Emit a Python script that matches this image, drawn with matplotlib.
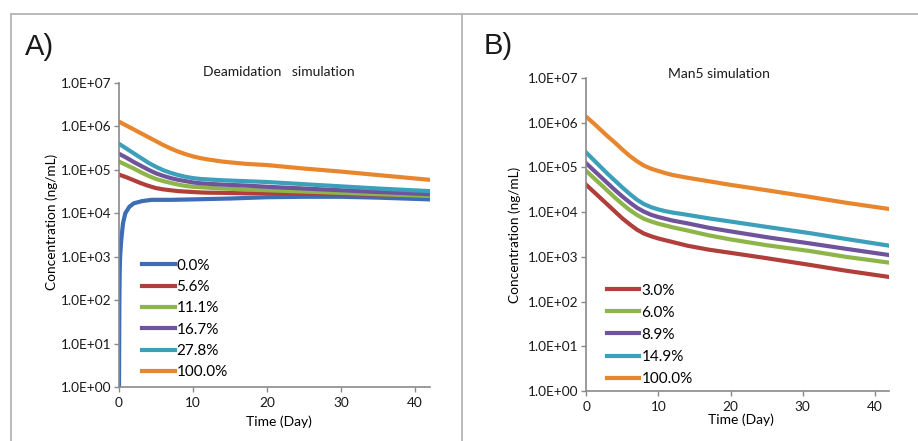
import numpy as np
import matplotlib
matplotlib.use("Agg")
import matplotlib.pyplot as plt
from matplotlib.lines import Line2D
from matplotlib.ticker import FixedLocator, FuncFormatter, NullLocator

# ---------------- data (log10 of concentration, ng/mL) ----------------
yticks = [1e0, 1e1, 1e2, 1e3, 1e4, 1e5, 1e6, 1e7]
xticks = [0, 10, 20, 30, 40]

# Panel A: deamidation
a_labels = ["0.0%", "5.6%", "11.1%", "16.7%", "27.8%", "100.0%"]
a_t_blue = [0, 0.05, 0.1, 0.15, 0.3, 0.54, 0.85, 1.4, 2, 3.1, 4.4, 7, 10, 15, 20, 25, 30, 35, 42]
a_blue = [0.0, 2.0, 2.7, 3.0, 3.38, 3.77, 4.0, 4.15, 4.23, 4.28, 4.31, 4.31, 4.32, 4.34, 4.37, 4.38, 4.38, 4.36, 4.32]
a_t = [0, 1, 2, 3, 4, 5, 6, 7, 8, 9, 10, 11, 12, 14, 17, 20, 25, 30, 35, 42]
a_red = [4.89, 4.83, 4.76, 4.69, 4.63, 4.58, 4.55, 4.53, 4.51, 4.50, 4.49, 4.48, 4.475, 4.47, 4.46, 4.46, 4.45, 4.44, 4.43, 4.42]
a_green = [5.19, 5.11, 5.03, 4.94, 4.86, 4.79, 4.74, 4.70, 4.66, 4.63, 4.61, 4.60, 4.59, 4.57, 4.55, 4.53, 4.50, 4.47, 4.44, 4.40]
a_purple = [5.37, 5.28, 5.18, 5.09, 5.00, 4.92, 4.86, 4.81, 4.77, 4.74, 4.71, 4.69, 4.68, 4.66, 4.64, 4.61, 4.57, 4.53, 4.49, 4.44]
a_cyan = [5.60, 5.49, 5.38, 5.27, 5.16, 5.07, 4.99, 4.93, 4.88, 4.84, 4.81, 4.79, 4.78, 4.76, 4.74, 4.72, 4.67, 4.62, 4.57, 4.51]
a_orange = [6.11, 6.02, 5.93, 5.84, 5.75, 5.66, 5.57, 5.49, 5.42, 5.36, 5.31, 5.27, 5.24, 5.19, 5.14, 5.11, 5.03, 4.96, 4.88, 4.77]

# Panel B: Man5
b_labels = ["3.0%", "6.0%", "8.9%", "14.9%", "100.0%"]
b_t = [0, 1, 2, 3, 4, 5, 6, 7, 8, 9, 10, 11, 12, 14, 17, 20, 25, 31, 36, 42]
b_red = [4.61, 4.46, 4.31, 4.16, 4.01, 3.86, 3.73, 3.61, 3.52, 3.46, 3.41, 3.37, 3.33, 3.25, 3.16, 3.09, 2.97, 2.82, 2.69, 2.55]
b_green = [4.92, 4.77, 4.62, 4.47, 4.32, 4.18, 4.05, 3.94, 3.85, 3.79, 3.74, 3.70, 3.66, 3.59, 3.48, 3.39, 3.26, 3.13, 3.00, 2.87]
b_purple = [5.09, 4.94, 4.79, 4.64, 4.49, 4.35, 4.22, 4.10, 4.01, 3.94, 3.89, 3.85, 3.81, 3.75, 3.65, 3.57, 3.44, 3.30, 3.18, 3.04]
b_cyan = [5.33, 5.17, 5.01, 4.85, 4.70, 4.55, 4.41, 4.28, 4.18, 4.11, 4.06, 4.02, 3.99, 3.94, 3.86, 3.79, 3.67, 3.53, 3.40, 3.25]
b_orange = [6.13, 5.99, 5.84, 5.69, 5.55, 5.40, 5.26, 5.14, 5.04, 4.97, 4.92, 4.87, 4.83, 4.77, 4.69, 4.61, 4.49, 4.34, 4.21, 4.07]

# ---------------- styling ----------------
C_BLUE, C_RED, C_GREEN = "#3E6DB5", "#B03F3C", "#8DB54A"
C_PURPLE, C_CYAN, C_ORANGE = "#70549B", "#3CA0BA", "#E8862E"
FONT = "Lato"
SPINE = "#8a8a8a"
LW = 3.0

fig = plt.figure(figsize=(9.18, 4.41), dpi=100)

# outer frame lines
for (x0, y0, x1, y1) in [(11, 14, 918, 14), (11, 14, 11, 441), (462, 14, 462, 441)]:
    fig.add_artist(Line2D([x0 / 918, x1 / 918], [1 - y0 / 441, 1 - y1 / 441],
                          transform=fig.transFigure, color="#b4b4b4", lw=1.3))


def fmt(v, pos):
    e = int(round(np.log10(v)))
    return "1.0E+%02d" % e


def style_axes(ax, title, title_xy, ylab_xy, xlab_xy):
    ax.set_yscale("log")
    ax.set_ylim(1, 1e7)
    ax.set_xlim(0, 42)
    ax.yaxis.set_major_locator(FixedLocator(yticks))
    ax.yaxis.set_minor_locator(NullLocator())
    ax.yaxis.set_major_formatter(FuncFormatter(fmt))
    ax.xaxis.set_major_locator(FixedLocator(xticks))
    for s in ["top", "right"]:
        ax.spines[s].set_visible(False)
    for s in ["left", "bottom"]:
        ax.spines[s].set_color(SPINE)
        ax.spines[s].set_linewidth(1.2)
    ax.tick_params(axis="both", direction="out", length=3.5, width=1.0, color=SPINE,
                   labelsize=9.8, labelcolor="#1a1a1a")
    ax.tick_params(axis="y", pad=2)
    ax.tick_params(axis="x", pad=4)
    for lab in ax.get_xticklabels() + ax.get_yticklabels():
        lab.set_fontfamily(FONT)
    ax.set_ylabel("Concentration (ng/mL)", fontfamily=FONT, fontsize=9.8)
    ax.yaxis.set_label_coords(*ylab_xy)
    ax.set_xlabel("Time (Day)", fontfamily=FONT, fontsize=10)
    ax.xaxis.set_label_coords(*xlab_xy)
    ax.text(title_xy[0], title_xy[1], title, transform=fig.transFigure, ha="center",
            va="center", fontfamily=FONT, fontsize=10, color="#1a1a1a")


# ---------------- Panel A ----------------
axA = fig.add_axes([119 / 918, 1 - 387 / 441, 311 / 918, 304 / 441])
axA.plot(a_t_blue, 10 ** np.array(a_blue), color=C_BLUE, lw=LW, label=a_labels[0])
for vals, col, lab in zip([a_red, a_green, a_purple, a_cyan, a_orange],
                          [C_RED, C_GREEN, C_PURPLE, C_CYAN, C_ORANGE], a_labels[1:]):
    axA.plot(a_t, 10 ** np.array(vals), color=col, lw=LW, label=lab)
style_axes(axA, "Deamidation   simulation", (279 / 918, 1 - 72 / 441),
           (-0.197, 0.543), (0.514, -0.092))
legA = axA.legend(loc="upper left", bbox_to_anchor=(0.073, 0.422),
                  frameon=False, handlelength=2.15, handletextpad=0.12, labelspacing=0.48,
                  borderaxespad=0, borderpad=0, prop={"family": FONT, "size": 11})

# ---------------- Panel B ----------------
axB = fig.add_axes([586.3 / 918, 1 - 391 / 441, 303 / 918, 313 / 441])
for vals, col, lab in zip([b_red, b_green, b_purple, b_cyan, b_orange],
                          [C_RED, C_GREEN, C_PURPLE, C_CYAN, C_ORANGE], b_labels):
    axB.plot(b_t, 10 ** np.array(vals), color=col, lw=LW, label=lab)
style_axes(axB, "Man5 simulation", (719 / 918, 1 - 74 / 441),
           (-0.214, 0.498), (0.512, -0.073))
legB = axB.legend(loc="upper left", bbox_to_anchor=(0.067, 0.343),
                  frameon=False, handlelength=2.15, handletextpad=0.12, labelspacing=0.53,
                  borderaxespad=0, borderpad=0, prop={"family": FONT, "size": 11})

# panel letters
fig.text(25 / 918, 1 - 47 / 441, "A)", fontfamily="Liberation Sans", fontsize=21,
         ha="left", va="center", color="#1a1a1a")
fig.text(484 / 918, 1 - 46 / 441, "B)", fontfamily="Liberation Sans", fontsize=21,
         ha="left", va="center", color="#1a1a1a")

fig.savefig("out.png", dpi=100)
